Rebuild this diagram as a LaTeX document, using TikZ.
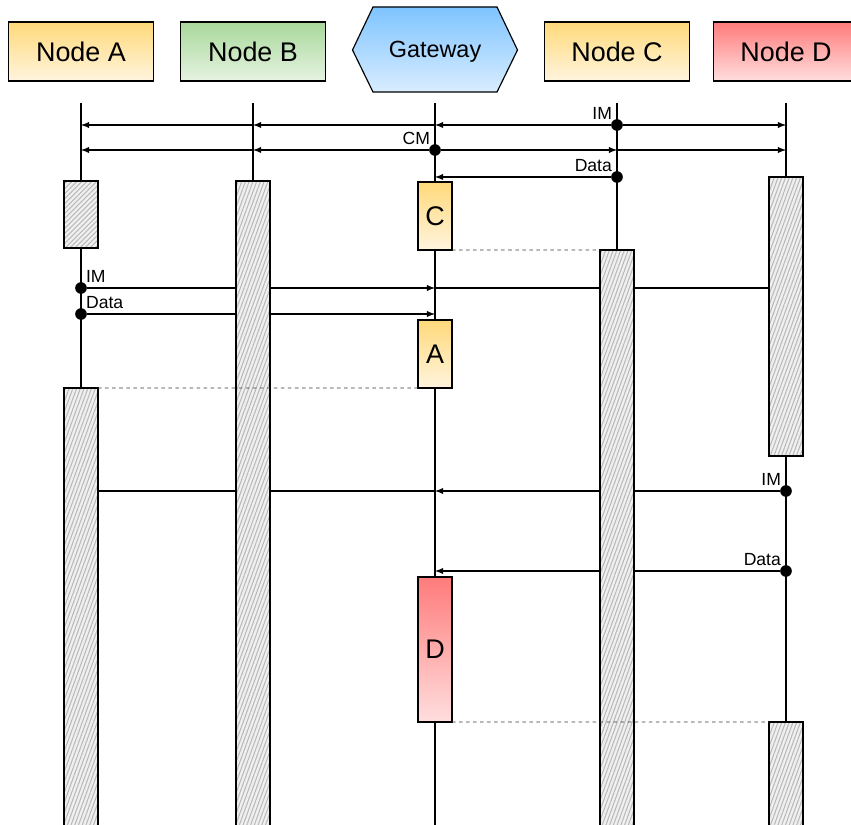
\documentclass[tikz,border=0pt]{standalone}
\usepackage{fontspec}
\setmainfont{Liberation Sans}
\usepackage{tikz}
\usetikzlibrary{arrows}
\usetikzlibrary{patterns.meta}

\definecolor{ylwtop}{HTML}{FFD97A}
\definecolor{ylwbot}{HTML}{FFF4DE}
\definecolor{grntop}{HTML}{A8D89A}
\definecolor{grnbot}{HTML}{E6F3E1}
\definecolor{blutop}{HTML}{7EC4FF}
\definecolor{blubot}{HTML}{D9EDFF}
\definecolor{redtop}{HTML}{FF7B7B}
\definecolor{redbot}{HTML}{FFDEDE}

\tikzset{
  hdr/.style={draw, line width=1pt, minimum width=4.35cm, minimum height=1.77cm,
              inner sep=0pt, font=\fontsize{23}{27}\selectfont},
  life/.style={line width=1.4pt},
  msg/.style={line width=1.4pt},
  act/.style={draw, line width=1.4pt, minimum width=1.02cm, inner sep=0pt, outer sep=0pt,
              preaction={fill=gray!12},
              pattern={Lines[angle=70, distance=3pt, line width=0.9pt]},
              pattern color=gray!55},
  job/.style={draw, line width=1.4pt, minimum width=1.02cm, inner sep=0pt, outer sep=0pt,
              font=\fontsize{23}{27}\selectfont},
  dot/.style={circle, fill=black, inner sep=0pt, minimum size=0.35cm},
  lbl/.style={font=\fontsize{15}{17}\selectfont, inner sep=0.5pt, label distance=0pt},
  wait/.style={line width=0.8pt, gray!45!black, dash pattern=on 3pt off 3pt},
}

\begin{document}
\begin{tikzpicture}[x=0.03cm, y=-0.03cm]
\useasboundingbox (0,0) rectangle (851,825);

% headers
\node[hdr, top color=ylwtop, bottom color=ylwbot] (na) at (81,51.5) {Node A};
\node[hdr, top color=grntop, bottom color=grnbot] (nb) at (253,51.5) {Node B};
\shadedraw[top color=blutop, bottom color=blubot, line width=1pt]
  (352.5,50) -- (373,7) -- (497,7) -- (517.5,50) -- (497,92) -- (373,92) -- cycle;
\node[font=\fontsize{20}{24}\selectfont] (gw) at (435,52) {Gateway};
\node[hdr, top color=ylwtop, bottom color=ylwbot] (nc) at (617,51.5) {Node C};
\node[hdr, top color=redtop, bottom color=redbot] (nd) at (786,51.5) {Node D};

% lifelines
\draw[life] (81,103) -- (81,825);
\draw[life] (253,103) -- (253,825);
\draw[life] (435,103) -- (435,825);
\draw[life] (617,103) -- (617,825);
\draw[life] (786,103) -- (786,825);

% messages
\node[dot, label={[lbl]135:IM}] (im1) at (617,125) {};
\node[dot, label={[lbl]135:CM}] (cm) at (435,150) {};
\node[dot, label={[lbl]135:Data}] (dat1) at (617,177) {};
\node[dot, label={[lbl]45:IM}] (im2) at (81,288) {};
\node[dot, label={[lbl]45:Data}] (dat2) at (81,314) {};
\node[dot, label={[lbl]135:IM}] (im3) at (786,491) {};
\node[dot, label={[lbl]135:Data}] (dat3) at (786,571) {};

\draw[msg,-latex] (im1) -- (im1 -| gw);
\draw[msg,-latex] (im1 -| gw) -- (im1 -| nb);
\draw[msg,-latex] (im1 -| nb) -- (im1 -| na);
\draw[msg,-latex] (im1) -- (im1 -| nd);

\draw[msg,-latex] (cm) -- (cm -| nb);
\draw[msg,-latex] (cm -| nb) -- (cm -| na);
\draw[msg,-latex] (cm) -- (cm -| nc);
\draw[msg,-latex] (cm -| nc) -- (cm -| nd);

\draw[msg,-latex] (dat1) -- (dat1 -| gw);

\draw[msg,-latex] (im2) -- (im2 -| gw);
\draw[msg] (im2 -| gw) -- (im2 -| nd);
\draw[msg,-latex] (dat2) -- (dat2 -| gw);

\draw[msg,-latex] (im3) -- (im3 -| gw);
\draw[msg] (im3 -| gw) -- (im3 -| na);
\draw[msg,-latex] (dat3) -- (dat3 -| gw);

% activations
\node[act, minimum height=2.01cm, pattern={Lines[angle=45, distance=3pt, line width=0.9pt]}] (a1) at (81,214.5) {};
\node[act, minimum height=13.8cm] (a2) at (81,618) {};
\node[act, minimum height=19.8cm] (b1) at (253,511) {};
\node[act, minimum height=17.7cm] (c1) at (617,545) {};
\node[act, minimum height=8.37cm] (d1) at (786,316.5) {};
\node[act, minimum height=3.54cm] (d2) at (786,781) {};

\node[job, minimum height=2.04cm, top color=ylwtop, bottom color=ylwbot] (gc) at (435,216) {C};
\node[job, minimum height=2.04cm, top color=ylwtop, bottom color=ylwbot] (ga) at (435,354) {A};
\node[job, minimum height=4.35cm, top color=redtop, bottom color=redbot] (gd) at (435,649.5) {D};

% idle gaps
\draw[wait] (gc.south east) -- (c1.north west);
\draw[wait] (ga.south west) -- (a2.north east);
\draw[wait] (gd.south east) -- (d2.north west);

\end{tikzpicture}
\end{document}
